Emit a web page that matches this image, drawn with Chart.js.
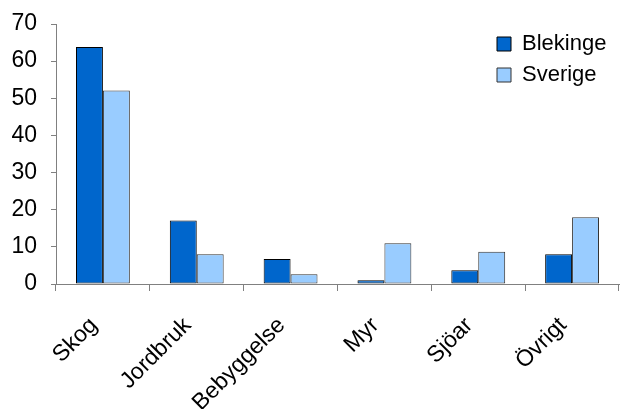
<!DOCTYPE html>
<html>
<head>
<meta charset="utf-8">
<script src="https://cdn.jsdelivr.net/npm/chart.js@4/dist/chart.umd.min.js"></script>
<style>
  html, body { margin: 0; padding: 0; background: #fff; }
  #wrap { width: 620px; height: 409px; position: relative; }
</style>
</head>
<body>
<div id="wrap"><canvas id="land_chart"></canvas></div>
<script>
// marktyper, andel i procent
var categories = ['Skog', 'Jordbruk', 'Bebyggelse', 'Myr', 'Sjöar', 'Övrigt'];
var blekinge = [63.8, 17.1, 6.7, 1.0, 3.7, 8.0];
var sverige = [52.1, 8.0, 2.6, 11.0, 8.7, 18.0];
var yTicks = [0, 10, 20, 30, 40, 50, 60, 70];

var font = "'Liberation Sans', Arial, sans-serif";
var axisGray = '#808080';

// legend sits inside the plot, top right
var legendPlace = {
    id: 'legendPlace',
    afterLayout: function(chart){
        var lg = chart.legend;
        var w = lg.width, h = lg.height;
        lg.left = 488;
        lg.right = lg.left + w;
        lg.top = 24;
        lg.bottom = lg.top + h;
    }
};

var ctx = document.getElementById('land_chart').getContext('2d');
var land_chart = new Chart(ctx, {
    type: 'bar',
    data: {
        labels: categories,
        datasets: [{
            label: 'Blekinge',
            data: blekinge,
            backgroundColor: '#0066cc',
            borderColor: '#000000',
            borderWidth: 1,
            borderSkipped: false,
        },{
            label: 'Sverige',
            data: sverige,
            backgroundColor: '#99ccff',
            borderColor: '#333333',
            borderWidth: 1,
            borderSkipped: false,
        }]
    },
    options: {
        responsive: true,
        maintainAspectRatio: false,
        animation: false,
        categoryPercentage: 0.574,
        barPercentage: 1,
        layout: { padding: { top: 24, right: 1, left: 0, bottom: 0 } },
        plugins: {
            tooltip: { enabled: false },
            legend: {
                position: 'chartArea',
                align: 'start',
                labels: {
                    color: '#000',
                    font: { family: font, size: 22 },
                    boxWidth: 14,
                    boxHeight: 14,
                    padding: 9,
                }
            }
        },
        scales: {
            x: {
                grid: { offset: true, drawOnChartArea: false, drawTicks: true, tickLength: 7, color: axisGray },
                border: { display: true, color: axisGray, width: 1 },
                ticks: {
                    color: '#000',
                    font: { family: font, size: 23 },
                    maxRotation: 45,
                    minRotation: 45,
                    autoSkip: false,
                    padding: 21,
                    labelOffset: -9,
                },
                afterFit: function(scale){ scale.height = 125; }
            },
            y: {
                min: 0,
                max: 70,
                grid: { drawOnChartArea: false, drawTicks: true, tickLength: 5, color: axisGray },
                border: { display: true, color: axisGray, width: 1 },
                afterBuildTicks: function(axis){ axis.ticks = yTicks.map(function(v){ return { value: v }; }); },
                ticks: {
                    color: '#000',
                    font: { family: font, size: 23 },
                    padding: 14,
                },
                afterFit: function(scale){
                    scale.width = 56;
                    scale.paddingTop = 0;
                    scale.paddingBottom = 0;
                }
            }
        }
    },
    plugins: [legendPlace]
});
</script>
</body>
</html>
